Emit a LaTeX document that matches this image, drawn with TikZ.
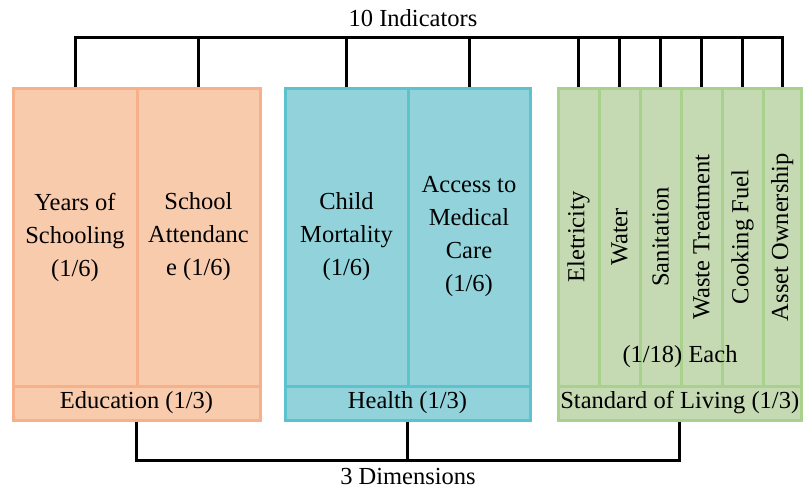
\documentclass[tikz,border=0pt]{standalone}
\usepackage{fontspec}
\setmainfont{Liberation Serif}
\usepackage{graphicx}
\definecolor{eduFill}{HTML}{F8CBAD}
\definecolor{eduLine}{HTML}{F6B08A}
\definecolor{healthFill}{HTML}{92D3DB}
\definecolor{healthLine}{HTML}{5BC2CE}
\definecolor{livingFill}{HTML}{C5DAB3}
\definecolor{livingLine}{HTML}{A9D18E}
\begin{document}
\begin{tikzpicture}[
      x=0.5pt, y=-0.5pt,
      every node/.style={font=\fontsize{12.25}{16.5}\selectfont, inner sep=0pt},
      cell/.style={draw, line width=1.5pt, align=center},
      column/.style={cell, minimum height=149pt},
      dimension/.style={cell, minimum height=17pt},
      edu/.style={fill=eduFill, draw=eduLine},
      health/.style={fill=healthFill, draw=healthLine},
      living/.style={fill=livingFill, draw=livingLine},
      conn/.style={draw, line width=1.5pt}
    ]
      \useasboundingbox (0,0) rectangle (803,488);
      \node[column, edu, minimum width=62pt] (years) at (75,237) {Years of\\Schooling\\(1/6)};
      \node[column, edu, minimum width=61.5pt] (attend) at (198.5,237) {School\\Attendanc\\e (1/6)};
      \node[dimension, edu, minimum width=123.5pt] (education) at (136.5,403) {Education (1/3)};
      \node[column, health, minimum width=61.5pt] (child) at (346.5,237) {Child\\Mortality\\(1/6)};
      \node[column, health, minimum width=61pt] (medical) at (469,237) {Access to\\Medical\\Care\\(1/6)};
      \node[dimension, health, minimum width=122.5pt] (health) at (407.5,403) {Health (1/3)};
      \node[column, living, minimum width=20.5pt] (elec) at (578.5,237) {\rotatebox{90}{Eletricity}};
      \node[column, living, minimum width=20.5pt] (water) at (619.5,237) {\rotatebox{90}{Water}};
      \node[column, living, minimum width=20.5pt] (sani) at (660.5,237) {\rotatebox{90}{Sanitation}};
      \node[column, living, minimum width=20.5pt] (waste) at (701.5,237) {\rotatebox{90}{Waste Treatment}};
      \node[column, living, minimum width=20.5pt] (fuel) at (742.5,237) {\rotatebox{90}{Cooking Fuel}};
      \node[column, living, minimum width=19.25pt] (asset) at (782.25,237) {\rotatebox{90}{Asset Ownership}};
      \node[dimension, living, minimum width=121.75pt] (living) at (679.75,403) {Standard of Living (1/3)};
      \node (each) at (680,357) {(1/18) Each};
      \node (indicators) at (413,18) {10 Indicators};
      \node (dimensions) at (408,476) {3 Dimensions};
      \coordinate (indbar) at (413,37);
      \coordinate (dimbar) at (408,460);
      \foreach \n in {years, attend, child, medical, elec, water, sani, waste, fuel, asset}
        \draw[conn] (\n.north) |- (indbar);
      \foreach \n in {education, health, living}
        \draw[conn] (\n.south) |- (dimbar);
    \end{tikzpicture}
\end{document}
